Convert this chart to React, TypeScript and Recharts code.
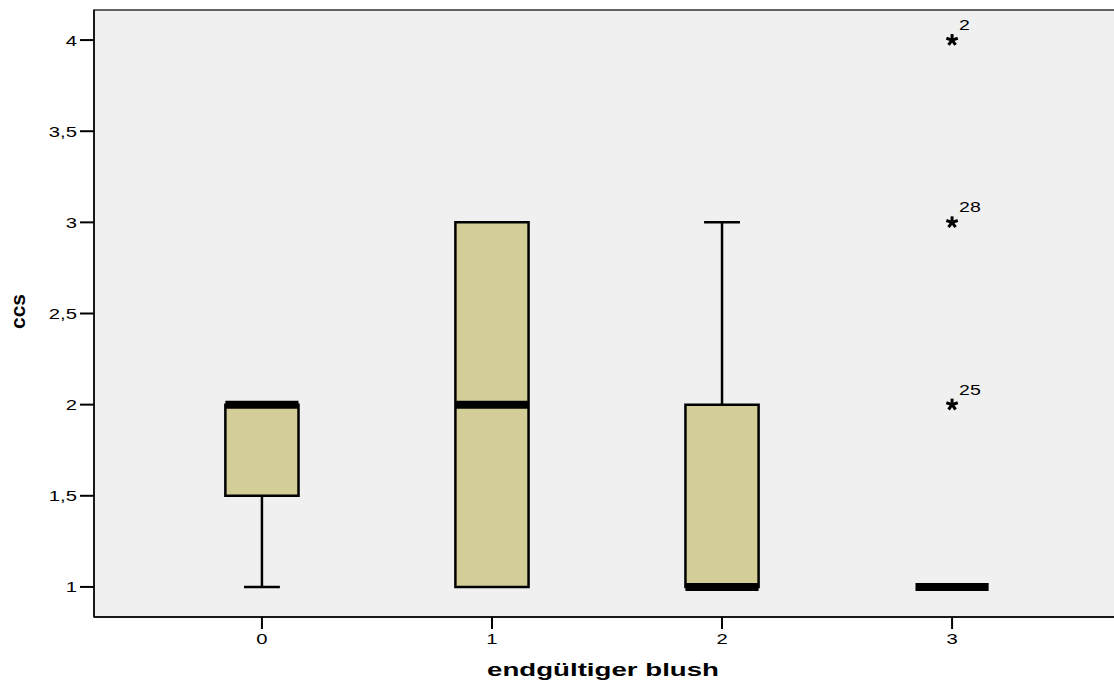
import React from "react";
import {
  ComposedChart,
  XAxis,
  YAxis,
  Scatter,
  ReferenceArea,
  ReferenceLine,
} from "recharts";

// boxplot stats per group of "endgültiger blush"
const categories = [0, 1, 2, 3];
const whiskerLow = [1, 1, 1, 1];
const q1 = [1.5, 1, 1, 1];
const median = [2, 2, 1, 1];
const q3 = [2, 3, 2, 1];
const whiskerHigh = [2, 3, 3, 1];

// extreme values (asterisks) with case numbers
const outlierX = [3, 3, 3];
const outlierY = [4, 3, 2];
const outlierCase = ["2", "28", "25"];

const yTicks = [1, 1.5, 2, 2.5, 3, 3.5, 4];

const X_DOMAIN: [number, number] = [-0.73, 3.73];
const Y_DOMAIN: [number, number] = [0.835, 4.165];
const BOX_HALF = 0.159;
const CAP_HALF = 0.078;
const FONT = "Arial, 'Liberation Sans', sans-serif";
const STRETCH = 1.35; // the original output is stretched sideways

const outliers = outlierX.map((x, i) => ({ x, y: outlierY[i], label: outlierCase[i] }));

const fmt = (v: number) => String(v).replace(".", ",");

// approx natural width of digits/commas in Arial
const numWidth = (s: string, size: number) =>
  s.split("").reduce((w, ch) => w + (ch === "," ? 0.278 : 0.556), 0) * size;

const StretchText = ({ x, y, text, size, anchor, stretch = STRETCH, dy = 0 }: any) => (
  <text
    x={x}
    y={y}
    dy={dy}
    fontSize={size}
    fontFamily={FONT}
    fill="#000"
    textAnchor={anchor}
    textLength={numWidth(text, size) * stretch}
    lengthAdjust="spacingAndGlyphs"
  >
    {text}
  </text>
);

const YTick = (props: any) => {
  const { x, y, payload } = props;
  return <StretchText x={x} y={y} dy={5.5} text={fmt(payload.value)} size={15} anchor="end" />;
};

const XTick = (props: any) => {
  const { x, y, payload } = props;
  return <StretchText x={x} y={y} dy={13} text={String(payload.value)} size={15} anchor="middle" />;
};

const XTitle = (props: any) => {
  const { viewBox } = props;
  const cx = viewBox.x + viewBox.width / 2 - 4;
  return (
    <text x={cx} y={676} fontSize={18} fontWeight="bold" fontFamily={FONT} fill="#000" textAnchor="middle" textLength={232} lengthAdjust="spacingAndGlyphs">
      endgültiger blush
    </text>
  );
};

const YTitle = (props: any) => {
  const { viewBox } = props;
  const cy = viewBox.y + viewBox.height / 2 - 2;
  return (
    <text x={25} y={cy} transform={`rotate(-90 25 ${cy})`} fontSize={20} fontWeight="bold" fontFamily={FONT} fill="#000" textAnchor="middle" textLength={35} lengthAdjust="spacingAndGlyphs">
      ccs
    </text>
  );
};

const Star = (props: any) => {
  const { cx, cy, payload } = props;
  const r = 6;
  const arms = [90, 18, 162, 234, 306].map((a) => (a * Math.PI) / 180);
  return (
    <g>
      {arms.map((a, i) => (
        <line
          key={i}
          x1={cx}
          y1={cy}
          x2={cx + r * Math.cos(a)}
          y2={cy - r * Math.sin(a)}
          stroke="#000"
          strokeWidth={3}
        />
      ))}
      <StretchText x={cx + 7} y={cy - 10} text={payload.label} size={15} anchor="start" stretch={1.3} />
    </g>
  );
};

export default function App() {
  return (
    <div style={{ position: "absolute", left: 0, top: 0, width: 1114, height: 686, overflow: "hidden", background: "#fff" }}>
      <ComposedChart
        width={1120}
        height={686}
        margin={{ top: 10, right: 0, bottom: 0, left: 0 }}
        style={{ fontFamily: FONT }}
      >
        <XAxis
          type="number"
          dataKey="x"
          domain={X_DOMAIN}
          ticks={categories}
          allowDataOverflow
          height={69}
          tickSize={12}
          axisLine={{ stroke: "#000", strokeWidth: 1.5 }}
          tickLine={{ stroke: "#000", strokeWidth: 2 }}
          tick={<XTick />}
          label={<XTitle />}
        />
        <YAxis
          type="number"
          dataKey="y"
          domain={Y_DOMAIN}
          ticks={yTicks}
          allowDataOverflow
          width={94}
          tickSize={14}
          tickMargin={3}
          axisLine={{ stroke: "#000", strokeWidth: 1.5 }}
          tickLine={{ stroke: "#000", strokeWidth: 2 }}
          tick={<YTick />}
          label={<YTitle />}
        />
        <ReferenceArea x1={X_DOMAIN[0]} x2={X_DOMAIN[1]} y1={Y_DOMAIN[0]} y2={Y_DOMAIN[1]} fill="#f0f0f0" fillOpacity={1} stroke="#333" strokeWidth={1.5} />
        {categories.map((c, i) => (
          <React.Fragment key={c}>
            {whiskerLow[i] < q1[i] && (
              <>
                <ReferenceLine segment={[{ x: c, y: whiskerLow[i] }, { x: c, y: q1[i] }]} stroke="#000" strokeWidth={2.5} />
                <ReferenceLine segment={[{ x: c - CAP_HALF, y: whiskerLow[i] }, { x: c + CAP_HALF, y: whiskerLow[i] }]} stroke="#000" strokeWidth={2.5} />
              </>
            )}
            {whiskerHigh[i] > q3[i] && (
              <>
                <ReferenceLine segment={[{ x: c, y: q3[i] }, { x: c, y: whiskerHigh[i] }]} stroke="#000" strokeWidth={2.5} />
                <ReferenceLine segment={[{ x: c - CAP_HALF, y: whiskerHigh[i] }, { x: c + CAP_HALF, y: whiskerHigh[i] }]} stroke="#000" strokeWidth={2.5} />
              </>
            )}
            {q3[i] > q1[i] && (
              <ReferenceArea x1={c - BOX_HALF} x2={c + BOX_HALF} y1={q1[i]} y2={q3[i]} fill="#d3ce98" fillOpacity={1} stroke="#000" strokeWidth={2.5} />
            )}
            <ReferenceLine segment={[{ x: c - BOX_HALF, y: median[i] }, { x: c + BOX_HALF, y: median[i] }]} stroke="#000" strokeWidth={8} />
          </React.Fragment>
        ))}
        <Scatter data={outliers} dataKey="y" shape={<Star />} isAnimationActive={false} />
      </ComposedChart>
    </div>
  );
}
